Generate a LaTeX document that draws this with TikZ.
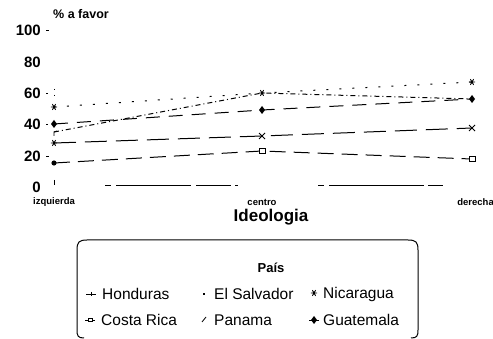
\documentclass[tikz,border=0pt]{standalone}
\usepackage{fontspec}
\setmainfont{Liberation Sans}
\usetikzlibrary{calc}
\tikzset{
  ser/.style={line width=1pt},
  salv/.style={ser, dash pattern=on 2pt off 11pt},
  pana/.style={ser, dash pattern=on 5pt off 3pt on 1pt off 3pt},
  guat/.style={ser, dash pattern=on 14pt off 9pt},
  nica/.style={ser, dash pattern=on 22pt off 9pt},
  cost/.style={ser, dash pattern=on 16pt off 8pt},
  hond/.style={ser, dash pattern=on 6pt off 5pt on 75pt off 5pt on 35pt off 4pt on 3pt off 80pt on 6pt off 5pt on 95pt off 4pt on 15pt off 20pt},
  tick/.style={font=\bfseries\fontsize{15}{15}\selectfont, anchor=east, inner sep=0pt},
  xlab/.style={font=\bfseries\fontsize{9.5}{10}\selectfont, inner sep=0pt},
  leg/.style={font=\fontsize{15.5}{16}\selectfont, anchor=west, inner sep=0pt},
  mk/.style={line width=0.9pt},
  tk/.style={line width=0.8pt},
}
\newcommand{\fdiam}[1]{\fill (#1) +(0,-4) -- +(3,0) -- +(0,4) -- +(-3,0) -- cycle;}
\newcommand{\fast}[1]{\draw[mk] (#1) +(-3.2,0) -- +(3.2,0) +(-1.6,-2.8) -- +(1.6,2.8) +(-1.6,2.8) -- +(1.6,-2.8);}
\newcommand{\fcross}[1]{\draw[mk] (#1) +(-3,-3) -- +(3,3) +(-3,3) -- +(3,-3);}
\begin{document}
\begin{tikzpicture}[x=1pt,y=-1pt]
\useasboundingbox (0,0) rectangle (493,339);
% y axis labels
\node[font=\bfseries\fontsize{12.5}{13}\selectfont, anchor=west, inner sep=0pt] (ylab) at (53,14) {\% a favor};
\node[tick] (t100) at (41,30) {100};
\node[tick] (t80) at (41,62) {80};
\node[tick] (t60) at (41,93) {60};
\node[tick] (t40) at (41,124) {40};
\node[tick] (t20) at (41,156) {20};
\node[tick] (t0) at (41,187) {0};
\draw[tk] (46,30) -- (49,30);
\draw[tk] (46,93) -- (48,93);
\draw[tk] (46,124) -- (48,124);
\draw[tk] (46,156) -- (49,156);
\draw[tk] (54,89) -- (54,90) (54,95) -- (54,96);
% x labels
\node[xlab] (xl) at (54,202) {izquierda};
\node[xlab] (xc) at (262,202) {centro};
\node[xlab, anchor=east] (xr) at (494,202) {derecha};
% data coordinates
\coordinate (sL) at (54,107); \coordinate (sC) at (262,93); \coordinate (sR) at (472,82);
\coordinate (pL) at (54,132); \coordinate (pC) at (262,93); \coordinate (pR) at (472,99);
\coordinate (gL) at (54,124); \coordinate (gC) at (262,110); \coordinate (gR) at (472,99);
\coordinate (nL) at (54,143); \coordinate (nC) at (262,136); \coordinate (nR) at (472,128);
\coordinate (cL) at (54,163); \coordinate (cC) at (262,151); \coordinate (cR) at (472,159);
\coordinate (hL) at (105,186); \coordinate (hR) at (450,186);
% series
\draw[salv] (sL) -- (sC) -- (sR);
\draw[pana] (pL) -- (pC) -- (pR);
\draw[guat] (gL) -- (gC) -- (gR);
\draw[nica] (nL) -- (nC) -- (nR);
\draw[cost] (cL) -- (cC) -- (cR);
\draw[hond] (hL) -- (hR);
\draw[tk] (54,180) -- (54,185);
% markers
\foreach \p in {sL,sC,sR} {\fast{\p}}
\foreach \p in {gL,gC,gR} {\fdiam{\p}}
\fast{nL}
\fcross{nC}
\fcross{nR}
\fill (cL) circle (2.6);
\foreach \p in {cC,cR} {\draw[tk, fill=white] ($(\p)+(-3,-2.5)$) rectangle ($(\p)+(3,2.5)$);}
\draw[tk] ($(pL)+(0,4)$) -- (pL) -- ($(pL)+(3,-1)$);
% title
\node[font=\bfseries\fontsize{17}{17}\selectfont, inner sep=0pt] (ideo) at (271,217) {Ideologia};
% legend box (open at bottom)
\draw[line width=1pt] (84,338) .. controls (78,338) and (77,336) .. (77,330)
  -- (77,250) .. controls (77,242) and (79,240) .. (87,240)
  -- (408,240) .. controls (416,240) and (418,242) .. (418,250)
  -- (418,330) .. controls (418,336) and (417,338) .. (411,338);
\node[font=\bfseries\fontsize{13}{13}\selectfont, inner sep=0pt] (pais) at (271,268) {País};
% legend row 1
\node[leg] (lh) at (102,294) {Honduras};
\draw[tk] (86,294) -- (96,294) (91,292) -- (91,296);
\node[leg] (ls) at (214,294) {El Salvador};
\fill (203,293) rectangle (205,295);
\node[leg] (ln) at (323,294) {Nicaragua};
\fast{314,293}
% legend row 2
\node[leg] (lc) at (101,320) {Costa Rica};
\draw[tk] (85,320) -- (95,320);
\draw[line width=0.6pt, fill=white] (88,318) rectangle (92,321);
\node[leg] (lp) at (214,320) {Panama};
\draw[tk] (202,322) -- (206,317);
\node[leg] (lg) at (323,320) {Guatemala};
\draw[tk] (309,320) -- (319,320);
\fdiam{314,320}
\end{tikzpicture}
\end{document}
